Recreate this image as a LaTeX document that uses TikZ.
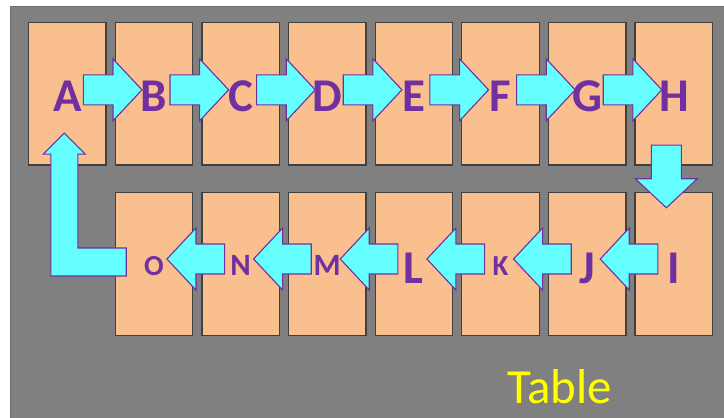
\documentclass[tikz,border=0pt]{standalone}
\usepackage{fontspec}
\setmainfont{Carlito}
\usetikzlibrary{calc}
\definecolor{peach}{HTML}{F9BF8F}
\definecolor{lblpurple}{HTML}{7030A0}
\definecolor{arrcyan}{HTML}{66FFFF}
\definecolor{bggray}{HTML}{808080}
\definecolor{boxedge}{HTML}{404040}
\definecolor{tblyellow}{HTML}{FFFF00}
\tikzset{
  cell/.style={draw=boxedge, line width=1.3pt, fill=peach, minimum width=77.5pt, minimum height=142.5pt, inner sep=0pt, outer sep=0pt},
  biglbl/.style={text=lblpurple, font=\fontsize{47}{47}\selectfont\bfseries, inner sep=0pt, anchor=base},
  midlbl/.style={text=lblpurple, font=\fontsize{31}{31}\selectfont\bfseries, inner sep=0pt, anchor=base},
  smalllbl/.style={text=lblpurple, font=\fontsize{29}{29}\selectfont\bfseries, inner sep=0pt, anchor=base},
  blockarr/.style={draw=lblpurple, line width=1.1pt, fill=arrcyan, line join=miter},
}
\newcommand{\blockarrow}[2]{%
  \coordinate (bas) at (#1);
  \coordinate (bae) at (#2);
  \coordinate (bah) at ($(bae)!29pt!(bas)$);
  \draw[blockarr] ($(bas)!15pt!90:(bae)$) -- ($(bah)!15pt!-90:(bas)$) -- ($(bah)!31pt!-90:(bas)$) -- (bae) -- ($(bah)!31pt!90:(bas)$) -- ($(bah)!15pt!90:(bas)$) -- ($(bas)!15pt!-90:(bae)$) -- cycle;
}
\begin{document}
\begin{tikzpicture}[x=1pt,y=1pt]
\useasboundingbox (0,0) rectangle (724,-418);
\fill[white] (0,0) rectangle (724,-418);
\fill[bggray] (10,-6) rectangle (724,-418);
\draw[bggray!85!black, line width=0.8pt] (10,-418) -- (10,-6) -- (724,-6);
% top row boxes
\foreach \n [count=\i from 0] in {A,B,C,D,E,F,G,H} {
  \node[cell] (b\n) at ({67.3+86.65*\i},-93.85) {};
}
% bottom row boxes
\foreach \n [count=\i from 1] in {O,N,M,L,K,J,I} {
  \node[cell] (b\n) at ({67.3+86.65*\i},-264) {};
}
% labels top row
\foreach \n in {A,B,C,D,E,F,G,H} {
  \node[biglbl] (\n) at ([yshift=-18pt]b\n.center) {\n};
}
% labels bottom row
\node[smalllbl] (O) at ([yshift=-11pt]bO.center) {O};
\node[midlbl] (N) at ([yshift=-11pt]bN.center) {N};
\node[midlbl] (M) at ([yshift=-11pt]bM.center) {M};
\node[biglbl] (L) at ([yshift=-19pt]bL.center) {L};
\node[smalllbl] (K) at ([yshift=-11pt]bK.center) {K};
\node[biglbl] (J) at ([yshift=-19pt]bJ.center) {J};
\node[biglbl] (I) at ([yshift=-19pt]bI.center) {I};
% top arrows
\foreach \a/\b in {A/B,B/C,C/D,D/E,E/F,F/G,G/H} {
  \blockarrow{[xshift=16pt,yshift=4pt]b\a.center}{[xshift=-12pt,yshift=4pt]b\b.center}
}
% down arrow H -> I
\blockarrow{[xshift=-7.5pt,yshift=20pt]bH.south}{[xshift=-7.5pt,yshift=-15pt]bI.north}
% bottom arrows
\foreach \a/\b in {I/J,J/K,K/L,L/M,M/N,N/O} {
  \blockarrow{[xshift=-16pt,yshift=5pt]b\a.center}{[xshift=13pt,yshift=5pt]b\b.center}
}
% L-shaped arrow O -> A
\coordinate (Ltip) at ([xshift=-3pt,yshift=32pt]bA.south);
\coordinate (Lend) at ([xshift=11pt,yshift=2pt]bO.west);
\draw[blockarr] let \p1=(Ltip), \p2=(Lend) in
  (\x2,\y2+14pt) -- (\x2,\y2-14pt) -- (\x1-13.5pt,\y2-14pt) -- (\x1-13.5pt,\y1-21pt)
  -- (\x1-21pt,\y1-21pt) -- (Ltip) -- (\x1+21pt,\y1-21pt) -- (\x1+13.5pt,\y1-21pt)
  -- (\x1+13.5pt,\y2+14pt) -- cycle;
% caption
\node[text=tblyellow, font=\fontsize{49}{49}\selectfont, inner sep=0pt, anchor=base west] (tbl) at (507,-403) {Table};
\end{tikzpicture}
\end{document}
